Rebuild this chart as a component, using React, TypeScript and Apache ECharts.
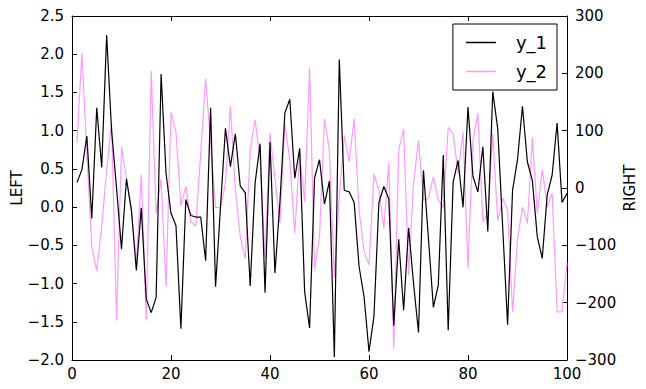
import React, { useEffect, useRef } from "react";
import * as echarts from "echarts";

const xTicks = [0, 20, 40, 60, 80, 100];
const leftTicks = [-2.0, -1.5, -1.0, -0.5, 0.0, 0.5, 1.0, 1.5, 2.0, 2.5];
const rightTicks = [-300, -200, -100, 0, 100, 200, 300];

const y1 = [
  0.32, 0.49, 0.93, -0.15, 1.3, 0.52, 2.25, 1.0, 0.25, -0.55,
  0.37, -0.04, -0.83, -0.01, -1.2, -1.38, -1.18, 1.74, 0.44, -0.08,
  -0.24, -1.59, 0.1, -0.11, -0.13, -0.13, -0.7, 1.3, -1.04, 0.0,
  1.03, 0.53, 0.96, 0.27, 0.19, -1.03, 0.32, 0.83, -1.12, 0.85,
  -0.86, 0.06, 1.23, 1.41, 0.38, 0.77, -1.11, -1.58, 0.38, 0.62,
  0.04, 0.34, -1.96, 1.93, 0.22, 0.2, 0.06, -0.78, -1.17, -1.89,
  -1.43, 0.06, 0.27, 0.11, -1.55, -0.42, -1.35, -0.27, -1.0, -1.64,
  0.48, -0.4, -1.31, -1.02, 0.68, -1.61, 0.33, 0.61, 0.0, 1.31,
  0.4, 0.2, 0.79, -0.32, 1.51, 1.03, -0.25, -1.54, 0.22, 0.62,
  1.32, 0.59, 0.35, -0.39, -0.67, 0.16, 0.42, 1.1, 0.06, 0.18,
];

const y2 = [
  79, 236, 60, -103, -144, -67, 31, 114, -231, 72,
  17, -38, -130, 23, -231, 204, -44, 15, -172, 132,
  98, -31, 3, -59, -66, 60, 191, 78, -34, -34,
  8, 143, -4, -85, -123, 66, 119, 49, -121, 96,
  17, -62, 112, 49, -79, 60, -24, 210, -142, -85,
  121, 66, -155, -15, 92, 46, 121, -38, -111, -134,
  24, -4, -70, 44, -280, 66, 103, -152, 8, 83,
  -21, -18, 20, -21, -34, 106, 94, 26, 98, -140,
  84, 131, -59, -44, 94, -57, -18, -38, -216, -91,
  -33, -62, 88, -44, 33, -33, -9, -216, -216, -131,
];

const xIndex = y1.map((_, i) => i + 1);

const FONT = "DejaVu Sans";
const fmtMinus = (s: string) => s.replace("-", "\u2212");

export default function App() {
  const ref = useRef<HTMLDivElement>(null);
  useEffect(() => {
    if (!ref.current) return;
    const chart = echarts.init(ref.current, null, { renderer: "svg" });
    const axisLine = { show: true, onZero: false, lineStyle: { color: "#000", width: 1 } };
    const tick = { show: true, inside: true, length: 5, lineStyle: { color: "#000" } };
    chart.setOption({
      animation: false,
      backgroundColor: "#fff",
      grid: {
        left: 72,
        right: 79,
        top: 16,
        bottom: 29,
        containLabel: false,
        outerBoundsMode: "none",
      },
      legend: {
        orient: "vertical",
        right: 89,
        top: 24,
        padding: [9, 10, 9, 13],
        itemGap: 10,
        itemWidth: 30,
        itemHeight: 1.5,
        icon: "rect",
        borderColor: "#000",
        borderWidth: 1,
        borderRadius: 0,
        backgroundColor: "#fff",
        textStyle: {
          fontFamily: FONT,
          fontSize: 18,
          color: "#000",
          padding: [0, 0, 0, 15],
          lineHeight: 19,
        },
        data: ["y_1", "y_2"],
      },
      xAxis: [
        {
          type: "value",
          min: 0,
          max: 100,
          interval: 20,
          axisLine,
          axisTick: tick,
          splitLine: { show: false },
          axisLabel: {
            color: "#000",
            fontFamily: FONT,
            fontSize: 15,
            margin: 6,
            formatter: (v: number) => (xTicks.includes(v) ? String(v) : ""),
          },
        },
        {
          type: "value",
          position: "top",
          min: 0,
          max: 100,
          interval: 20,
          axisLine,
          axisTick: tick,
          splitLine: { show: false },
          axisLabel: { show: false },
        },
      ],
      yAxis: [
        {
          type: "value",
          position: "left",
          min: -2,
          max: 2.5,
          interval: 0.5,
          name: "LEFT",
          nameLocation: "middle",
          nameRotate: 90,
          nameGap: 48,
          nameMoveOverlap: false,
          nameTextStyle: { fontFamily: FONT, fontSize: 15, color: "#000" },
          axisLine,
          axisTick: tick,
          splitLine: { show: false },
          axisLabel: {
            color: "#000",
            fontFamily: FONT,
            fontSize: 15,
            margin: 8,
            formatter: (v: number) =>
              leftTicks.some((t) => Math.abs(t - v) < 1e-9) ? fmtMinus(v.toFixed(1)) : "",
          },
        },
        {
          type: "value",
          position: "right",
          min: -300,
          max: 300,
          interval: 100,
          name: "RIGHT",
          nameLocation: "middle",
          nameRotate: 90,
          nameGap: 55,
          nameMoveOverlap: false,
          nameTextStyle: { fontFamily: FONT, fontSize: 15, color: "#000" },
          axisLine,
          axisTick: tick,
          splitLine: { show: false },
          axisLabel: {
            color: "#000",
            fontFamily: FONT,
            fontSize: 15,
            margin: 8,
            formatter: (v: number) => (rightTicks.includes(v) ? fmtMinus(String(v)) : ""),
          },
        },
      ],
      series: [
        {
          name: "y_1",
          type: "line",
          xAxisIndex: 0,
          yAxisIndex: 0,
          symbol: "none",
          data: xIndex.map((x, i) => [x, y1[i]]),
          lineStyle: { color: "#000", width: 1.2 },
          itemStyle: { color: "#000" },
          z: 3,
        },
        {
          name: "y_2",
          type: "line",
          xAxisIndex: 0,
          yAxisIndex: 1,
          symbol: "none",
          data: xIndex.map((x, i) => [x, y2[i]]),
          lineStyle: { color: "#ff99ff", width: 1.2 },
          itemStyle: { color: "#ff99ff" },
          z: 2,
        },
      ],
    });
    return () => chart.dispose();
  }, []);
  return (
    <div
      ref={ref}
      style={{ position: "fixed", left: 0, top: 0, width: 646, height: 389, background: "#fff" }}
    />
  );
}
